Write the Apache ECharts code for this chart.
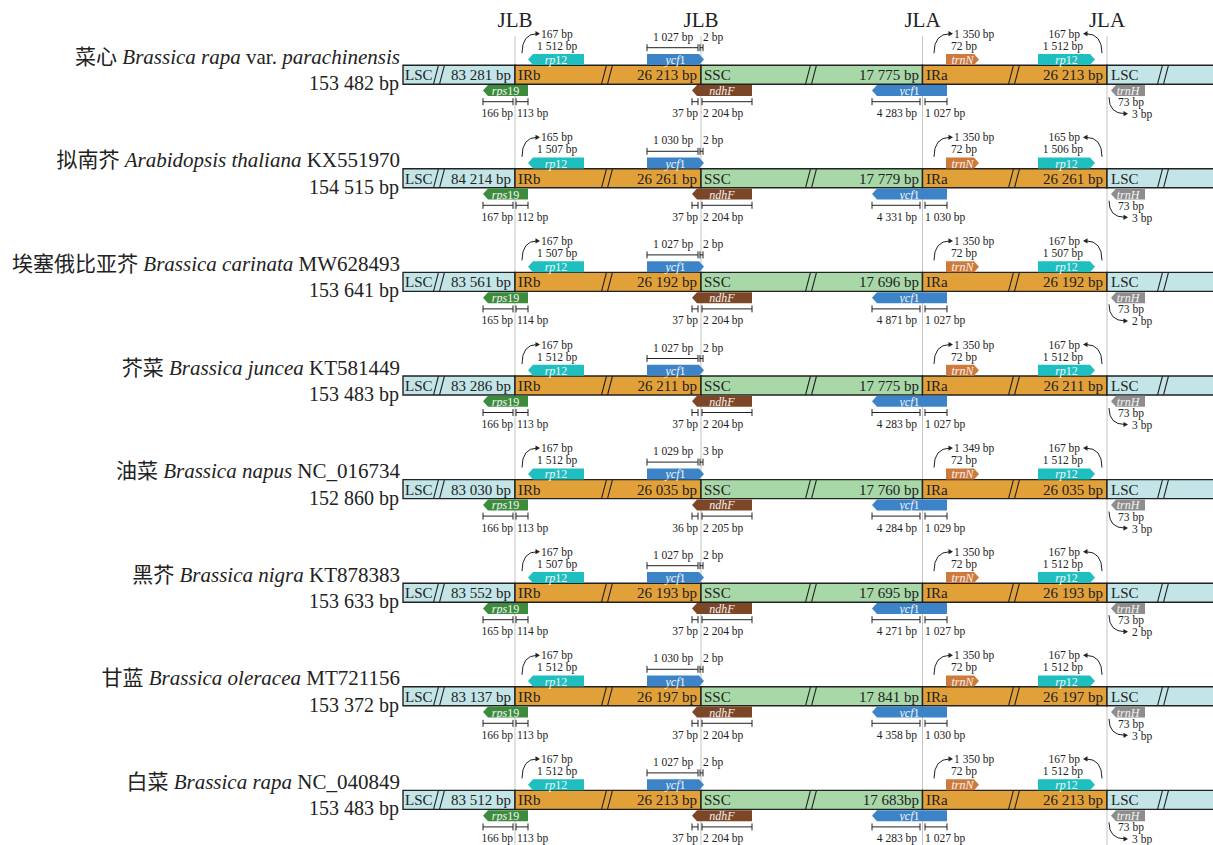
<!DOCTYPE html>
<html>
<head>
<meta charset="utf-8">
<script src="https://cdn.jsdelivr.net/npm/echarts@6/dist/echarts.min.js"></script>
<style>
  html, body { margin: 0; padding: 0; background: #fff; }
  #chart { width: 1213px; height: 845px; }
</style>
</head>
<body>
<div id="chart"></div>
<script>
  // species rows
  var cnNames = ['菜心', '拟南芥', '埃塞俄比亚芥', '芥菜', '油菜', '黑芥', '甘蓝', '白菜'];
  var latinNames = ['Brassica rapa var. parachinensis', 'Arabidopsis thaliana', 'Brassica carinata', 'Brassica juncea',
    'Brassica napus', 'Brassica nigra', 'Brassica oleracea', 'Brassica rapa'];
  var accessions = ['', 'KX551970', 'MW628493', 'KT581449', 'NC_016734', 'KT878383', 'MT721156', 'NC_040849'];
  var genomeSize = [153482, 154515, 153641, 153483, 152860, 153633, 153372, 153483];

  // region lengths
  var lscLen = [83281, 84214, 83561, 83286, 83030, 83552, 83137, 83512];
  var irbLen = [26213, 26261, 26192, 26211, 26035, 26193, 26197, 26213];
  var sscLen = [17775, 17779, 17696, 17775, 17760, 17695, 17841, 17683];
  var sscUnitSep = [' ', ' ', ' ', ' ', ' ', ' ', ' ', ''];
  var iraLen = [26213, 26261, 26192, 26211, 26035, 26193, 26197, 26213];

  // genes at the borders (bp)
  var rp12bOut = [167, 165, 167, 167, 167, 167, 167, 167];
  var rp12bIn = [1512, 1507, 1507, 1512, 1512, 1507, 1512, 1512];
  var ycf1bIn = [1027, 1030, 1027, 1027, 1029, 1027, 1030, 1027];
  var ycf1bGap = [2, 2, 2, 2, 3, 2, 2, 2];
  var trnNOut = [1350, 1350, 1350, 1350, 1349, 1350, 1350, 1350];
  var trnNIn = [72, 72, 72, 72, 72, 72, 72, 72];
  var rp12aOut = [167, 165, 167, 167, 167, 167, 167, 167];
  var rp12aIn = [1512, 1506, 1507, 1512, 1512, 1512, 1512, 1512];
  var rps19Lsc = [166, 167, 165, 166, 166, 165, 166, 166];
  var rps19Ir = [113, 112, 114, 113, 113, 114, 113, 113];
  var ndhFIr = [37, 37, 37, 37, 36, 37, 37, 37];
  var ndhFSsc = [2204, 2204, 2204, 2204, 2205, 2204, 2204, 2204];
  var ycf1aSsc = [4283, 4331, 4871, 4283, 4284, 4271, 4358, 4283];
  var ycf1aIr = [1027, 1030, 1027, 1027, 1029, 1027, 1030, 1027];
  var trnHLen = [73, 73, 73, 73, 73, 73, 73, 73];
  var trnHGap = [3, 3, 2, 3, 3, 2, 3, 3];

  var junctions = ['JLB', 'JLB', 'JLA', 'JLA'];

  // layout
  var JX = [515, 701, 922.5, 1107];
  var ROW_Y0 = 74.7, ROW_GAP = 103.6;
  var SMALL = 11.5;
  var SERIF = "'Liberation Serif', 'Times New Roman', 'Noto Sans CJK SC', serif";
  var C = {
    lsc: '#c3e5e7', ir: '#e2a038', ssc: '#a8d7a8',
    rp12: '#1fbfc0', ycf1: '#3c84c7', rps19: '#3d8c3e', ndhF: '#7c4727', trnN: '#cf7a3b', trnH: '#8d8d8d',
    ink: '#222'
  };

  var mctx = document.createElement('canvas').getContext('2d');
  function textWidth(str, size, italic) {
    mctx.font = (italic ? 'italic ' : '') + size + 'px ' + SERIF;
    return mctx.measureText(str).width;
  }

  function bp(n, sep) {
    return String(n).replace(/\B(?=(\d{3})+(?!\d))/g, ' ') + (sep === undefined ? ' ' : sep) + 'bp';
  }

  // [text, italic] pieces of a species label, joined by spaces
  function speciesParts(i) {
    var parts = latinNames[i].split(' var. ');
    var out = [[cnNames[i], false], [parts[0], true]];
    if (parts[1]) out.push(['var.', false], [parts[1], true]);
    if (accessions[i]) out.push([accessions[i], false]);
    return out;
  }

  function rowItem(params, api) {
    var i = params.dataIndex;
    var y = ROW_Y0 + i * ROW_GAP;
    var kids = [];
    function P(x, yy) { return api.coord([x, yy]); }
    function text(x, yy, str, size, align, italic, fill) {
      var p = P(x, yy);
      kids.push({ type: 'text', style: {
        text: str, x: p[0], y: p[1], fill: fill || C.ink, fontSize: size, fontFamily: SERIF,
        fontStyle: italic ? 'italic' : 'normal', lineHeight: size,
        align: align || 'left', verticalAlign: 'middle'
      } });
    }
    // mixed italic / upright pieces; anchor is the right edge or the centre
    function pieces(x, yy, parts, size, gap, align, fill) {
      var ws = parts.map(function (q) { return textWidth(q[0], size, q[1]); });
      var total = ws.reduce(function (a, b) { return a + b; }, 0) + gap * (parts.length - 1);
      var cur = align === 'right' ? x - total : x - total / 2;
      parts.forEach(function (q, k) {
        text(cur, yy, q[0], size, 'left', q[1], fill);
        cur += ws[k] + gap;
      });
    }
    function line(x0, y0, x1, y1, w) {
      var a = P(x0, y0), b = P(x1, y1);
      kids.push({ type: 'line', shape: { x1: a[0], y1: a[1], x2: b[0], y2: b[1] },
        style: { stroke: C.ink, lineWidth: w || 1 } });
    }
    function box(x0, x1, fill) {
      var a = P(x0, y - 9.5), b = P(x1, y + 9.5);
      kids.push({ type: 'rect', shape: { x: a[0], y: a[1], width: b[0] - a[0], height: b[1] - a[1] },
        style: { fill: fill, stroke: C.ink, lineWidth: 1.4 } });
    }
    function slash(cx) {
      line(cx - 5.5, y + 9.5, cx - 0.5, y - 9.5, 1.1);
      line(cx + 0.5, y + 9.5, cx + 5.5, y - 9.5, 1.1);
    }
    function gene(x0, x1, above, right, fill, label) {
      var t = above ? y - 20.7 : y + 10.3, b = t + 11, m = t + 5.5, pts;
      if (right) pts = [[x0, t], [x1 - 5, t], [x1, m], [x1 - 5, b], [x0, b]];
      else pts = [[x0, m], [x0 + 5, t], [x1, t], [x1, b], [x0 + 5, b]];
      kids.push({ type: 'polygon', shape: { points: pts.map(function (q) { return P(q[0], q[1]); }) },
        style: { fill: fill } });
      pieces((x0 + x1) / 2, m + 0.5, label, 12, 0, 'center', '#f4f4f4');
    }
    function measure(xa, xb, yy) {
      line(xa, yy, xb, yy, 1);
      line(xa, yy - 3.5, xa, yy + 3.5, 1);
      line(xb, yy - 3.5, xb, yy + 3.5, 1);
    }
    function curve(x0, y0, x1, y1, cx, cy, dir) {
      var a = P(x0, y0), b = P(x1, y1), c = P(cx, cy);
      kids.push({ type: 'bezierCurve', shape: { x1: a[0], y1: a[1], x2: b[0], y2: b[1], cpx1: c[0], cpy1: c[1] },
        style: { stroke: C.ink, lineWidth: 1, fill: null } });
      var tip = dir > 0 ? [x1 + 3, y1] : [x1 - 3, y1];
      var pts = [tip, [x1 - dir * 1.5, y1 - 2.6], [x1 - dir * 1.5, y1 + 2.6]];
      kids.push({ type: 'polygon', shape: { points: pts.map(function (q) { return P(q[0], q[1]); }) },
        style: { fill: C.ink } });
    }

    // species label
    pieces(400, y - 18, speciesParts(i), 21, textWidth(' ', 21, false), 'right');
    text(399, y + 8.5, bp(genomeSize[i]), 20, 'right');

    // regions
    box(403, JX[0], C.lsc);
    box(JX[0], JX[1], C.ir);
    box(JX[1], JX[2], C.ssc);
    box(JX[2], JX[3], C.ir);
    box(JX[3], 1220, C.lsc);
    [439, 607, 811, 1014, 1163].forEach(slash);

    text(405, y + 0.5, 'LSC', 15);
    text(511, y + 0.5, bp(lscLen[i]), 15, 'right');
    text(518, y + 0.5, 'IRb', 15);
    text(697, y + 0.5, bp(irbLen[i]), 15, 'right');
    text(704, y + 0.5, 'SSC', 15);
    text(919, y + 0.5, bp(sscLen[i], sscUnitSep[i]), 15, 'right');
    text(926, y + 0.5, 'IRa', 15);
    text(1103, y + 0.5, bp(iraLen[i]), 15, 'right');
    text(1111, y + 0.5, 'LSC', 15);

    // genes above
    gene(528, 584, true, false, C.rp12, [['rp', true], ['12', false]]);
    gene(647, 704, true, true, C.ycf1, [['ycf', true], ['1', false]]);
    gene(946, 979, true, true, C.trnN, [['trnN', true]]);
    gene(1038, 1095, true, true, C.rp12, [['rp', true], ['12', false]]);
    // genes below
    gene(483, 528, false, false, C.rps19, [['rps', true], ['19', false]]);
    gene(692, 752, false, false, C.ndhF, [['ndhF', true]]);
    gene(872, 947, false, false, C.ycf1, [['ycf', true], ['1', false]]);
    gene(1111, 1145, false, false, C.trnH, [['trnH', true]]);

    // rp12 at JLB
    curve(522, y - 21.5, 537, y - 41, 522, y - 41, 1);
    text(541, y - 41, bp(rp12bOut[i]), SMALL);
    text(537, y - 29, bp(rp12bIn[i]), SMALL);
    // ycf1 at JLB
    measure(647, 698, y - 27);
    measure(700, 703, y - 27);
    text(673, y - 38, bp(ycf1bIn[i]), SMALL, 'center');
    text(703, y - 38, bp(ycf1bGap[i]), SMALL);
    // trnN at JLA
    curve(934, y - 21.5, 950, y - 41, 934, y - 41, 1);
    text(954, y - 41, bp(trnNOut[i]), SMALL);
    text(951, y - 29, bp(trnNIn[i]), SMALL);
    // rp12 at JLA
    curve(1102, y - 21.5, 1086, y - 41, 1102, y - 41, -1);
    text(1080, y - 41, bp(rp12aOut[i]), SMALL, 'right');
    text(1083, y - 29, bp(rp12aIn[i]), SMALL, 'right');

    // rps19 at JLB
    measure(483, 513, y + 27);
    measure(516, 528, y + 27);
    text(513, y + 38.5, bp(rps19Lsc[i]), SMALL, 'right');
    text(517, y + 38.5, bp(rps19Ir[i]), SMALL);
    // ndhF at JLB
    measure(692, 698, y + 27);
    measure(702, 752, y + 27);
    text(698, y + 38.5, bp(ndhFIr[i]), SMALL, 'right');
    text(703, y + 38.5, bp(ndhFSsc[i]), SMALL);
    // ycf1 at JLA
    measure(872, 920, y + 27);
    measure(925, 947, y + 27);
    text(917, y + 38.5, bp(ycf1aSsc[i]), SMALL, 'right');
    text(925, y + 38.5, bp(ycf1aIr[i]), SMALL);
    // trnH at JLA
    curve(1109, y + 22.5, 1125, y + 39, 1109, y + 39, 1);
    text(1118, y + 27.5, bp(trnHLen[i]), SMALL);
    text(1132, y + 39.5, bp(trnHGap[i]), SMALL);

    return { type: 'group', children: kids };
  }

  function junctionItem(params, api) {
    var x = JX[params.dataIndex];
    var a = api.coord([x, 36]), b = api.coord([x, 845]), t = api.coord([x, 20]);
    return { type: 'group', children: [
      { type: 'line', shape: { x1: a[0], y1: a[1], x2: b[0], y2: b[1] }, style: { stroke: '#c4c4c4', lineWidth: 1 } },
      { type: 'text', style: { text: junctions[params.dataIndex], x: t[0], y: t[1], fill: C.ink,
        fontSize: 21, fontFamily: SERIF, align: 'center', verticalAlign: 'middle' } }
    ] };
  }

  var chart = echarts.init(document.getElementById('chart'), null, { renderer: 'svg' });
  chart.setOption({
    animation: false,
    grid: { left: 0, right: 0, top: 0, bottom: 0 },
    xAxis: { type: 'value', min: 0, max: 1213, show: false },
    yAxis: { type: 'value', min: 0, max: 845, inverse: true, show: false },
    series: [
      { type: 'custom', z: 1, renderItem: junctionItem, data: junctions.map(function (n, k) { return [k]; }) },
      { type: 'custom', z: 2, renderItem: rowItem, data: cnNames.map(function (n, k) { return [k]; }) }
    ]
  });
</script>
</body>
</html>
